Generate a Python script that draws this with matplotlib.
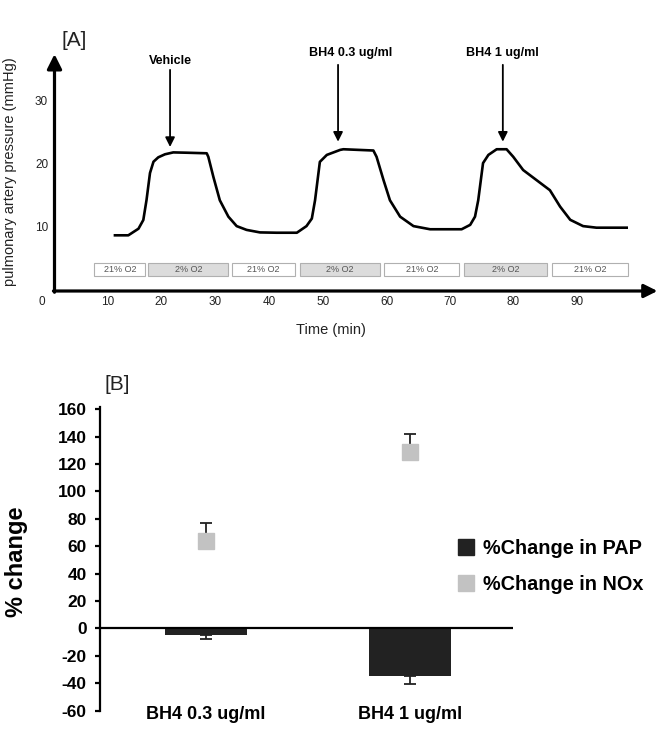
import matplotlib
matplotlib.use("Agg")
import matplotlib.pyplot as plt
from matplotlib.lines import Line2D

plt.rcParams['font.family'] = ['Liberation Sans', 'DejaVu Sans']

# ---------------- Panel A data ----------------
time_min = [11.3, 13.8, 15.7, 16.6, 17.2, 17.85, 18.5, 19.4, 20.65, 22.2, 24.7, 28.45,
            28.75, 29.7, 30.9, 32.5, 34.05, 35.9, 38.4, 41.5, 45.3, 47.1, 48.1, 48.7,
            49.6, 50.9, 53.4, 54.0, 59.6, 60.2, 61.5, 62.7, 64.6, 67.1, 70.2, 76.1,
            77.7, 78.6, 79.2, 80.1, 81.1, 82.65, 84.5, 85.75, 87.6, 90.1, 92.6, 94.5,
            96.4, 98.8, 101.3, 106.95]
pap_mmhg = [8.84, 8.84, 9.89, 11.27, 14.44, 18.73, 20.52, 21.22, 21.7, 22.0, 21.95, 21.86,
            21.3, 18.1, 14.4, 11.8, 10.3, 9.7, 9.3, 9.25, 9.25, 10.3, 11.5, 14.4,
            20.5, 21.6, 22.4, 22.5, 22.3, 21.3, 17.6, 14.4, 11.8, 10.3, 9.8, 9.8,
            10.5, 11.8, 14.4, 20.3, 21.6, 22.5, 22.5, 21.3, 19.2, 17.6, 16.0, 13.4,
            11.3, 10.3, 10.05, 10.05]

xtick_pos = [-2.3, 10, 19.9, 30, 40.1, 50.2, 62.1, 74.0, 85.7, 97.7]
xtick_labels = ["0", "10", "20", "30", "40", "50", "60", "70", "80", "90"]
ytick_vals = [10, 20, 30]

o2_labels = ["21% O2", "2% O2", "21% O2", "2% O2", "21% O2", "2% O2", "21% O2"]
o2_start = [7.44, 17.53, 33.23, 45.89, 61.64, 76.54, 93.05]
o2_end = [16.97, 32.49, 44.9, 60.84, 75.66, 92.11, 107.14]

drug_labels = ["Vehicle", "BH4 0.3 ug/ml", "BH4 1 ug/ml"]
drug_time = [21.6, 53.0, 83.8]

# ---------------- Panel B data ----------------
categories = ["BH4 0.3 ug/ml", "BH4 1 ug/ml"]
pap_change = [-5, -35]
pap_err = [3, 5.5]
nox_change = [64, 129]
nox_err = [13, 13]

fig = plt.figure(figsize=(6.66, 7.31), dpi=100)

# ================= Panel A =================
axA = fig.add_axes([6.35 / 666, 1 - 341.4 / 731, (664.4 - 6.35) / 666, (341.4 - 26.4) / 731])
axA.set_xlim(-9, 114)
axA.set_ylim(-8, 42)
axA.axis('off')

axA.plot(time_min, pap_mmhg, color='black', lw=1.9, solid_joinstyle='round')

# axes arrows
axA.annotate('', xy=(0, 37.6), xytext=(0, -0.2),
             arrowprops=dict(arrowstyle='-|>', lw=2.3, color='black', mutation_scale=22,
                             shrinkA=0, shrinkB=0))
axA.annotate('', xy=(112.7, 0), xytext=(-0.2, 0),
             arrowprops=dict(arrowstyle='-|>', lw=2.3, color='black', mutation_scale=20,
                             shrinkA=0, shrinkB=0))

for p, l in zip(xtick_pos, xtick_labels):
    axA.text(p, -1.75, l, ha='center', va='center', fontsize=8.5, color='#222222')
for v in ytick_vals:
    axA.text(-1.2, v, str(v), ha='right', va='center', fontsize=8.5, color='#222222')

for s, e, l in zip(o2_start, o2_end, o2_labels):
    fc = '#dcdcdc' if l.startswith('2%') else 'white'
    axA.add_patch(plt.Rectangle((s, 2.38), e - s, 2.06, facecolor=fc,
                                edgecolor='#b0b0b0', lw=0.8))
    axA.text((s + e) / 2, 3.41, l, ha='center', va='center', fontsize=6.5, color='#555555')

arrow_top = [35.1, 35.9, 35.9]
arrow_tip = [22.86, 23.7, 23.7]
label_x = [21.6, 55.4, 83.8]
label_y = [36.5, 37.8, 37.8]
for t, l, top, tip, lx, ly in zip(drug_time, drug_labels, arrow_top, arrow_tip, label_x, label_y):
    axA.annotate('', xy=(t, tip), xytext=(t, top),
                 arrowprops=dict(arrowstyle='-|>', lw=1.3, color='black', mutation_scale=14,
                                 shrinkA=0, shrinkB=0))
    axA.text(lx, ly, l, ha='center', va='center', fontsize=9, fontweight='bold')

axA.text(-8.3, 18.9, "pulmonary artery pressure (mmHg)", rotation=90, ha='center',
         va='center', fontsize=10.5, color='#222222')
axA.text(51.7, -6.2, "Time (min)", ha='center', va='center', fontsize=10.5, color='#222222')
axA.text(3.6, 39.8, "[A]", ha='center', va='center', fontsize=15, color='#222222')

# ================= Panel B =================
axB = fig.add_axes([100 / 666, 1 - 710.7 / 731, (512.7 - 100) / 666, (710.7 - 406.5) / 731])
axB.set_xlim(-0.518, 1.503)
axB.set_ylim(-60, 162)
x = list(range(len(categories)))

axB.bar(x, pap_change, width=0.4, color='#222222', zorder=2)
axB.errorbar(x, pap_change, yerr=[pap_err, [0, 0]], fmt='none', ecolor='#222222',
             elinewidth=1.3, capsize=4, capthick=1.3, zorder=3)
axB.errorbar(x, nox_change, yerr=[[0, 0], nox_err], fmt='none', ecolor='#222222',
             elinewidth=1.3, capsize=4, capthick=1.3, zorder=3)
axB.plot(x, nox_change, linestyle='none', marker='s', markersize=11,
         color='#c2c2c2', zorder=4)
axB.axhline(0, color='black', lw=1.6, zorder=3)

for sp in ['top', 'right', 'bottom']:
    axB.spines[sp].set_visible(False)
axB.spines['left'].set_linewidth(1.6)
axB.set_yticks(range(-60, 161, 20))
axB.set_yticklabels([str(v) for v in range(-60, 161, 20)], fontsize=12.5, fontweight='bold')
axB.tick_params(axis='y', direction='out', length=3.5, width=1.6, pad=6)
axB.set_xticks([])
for i, c in zip(x, categories):
    axB.text(i, -63, c, ha='center', va='center', fontsize=13, fontweight='bold')

fig.text(17 / 666, 1 - 562 / 731, "% change", rotation=90, ha='center', va='center',
         fontsize=17, fontweight='bold')
fig.text(117 / 666, 1 - 385 / 731, "[B]", ha='center', va='center', fontsize=15,
         color='#222222')

handles = [Line2D([], [], linestyle='none', marker='s', markersize=11, color='#222222'),
           Line2D([], [], linestyle='none', marker='s', markersize=11, color='#c2c2c2')]
fig.legend(handles, ["%Change in PAP", "%Change in NOx"], loc='center left',
           bbox_to_anchor=(456 / 666, 1 - 566.5 / 731), frameon=False, borderpad=0,
           borderaxespad=0, handlelength=1.0, handletextpad=0.35, labelspacing=0.85,
           prop=dict(size=14.3, weight='bold'))

fig.savefig("out.png", dpi=100)
